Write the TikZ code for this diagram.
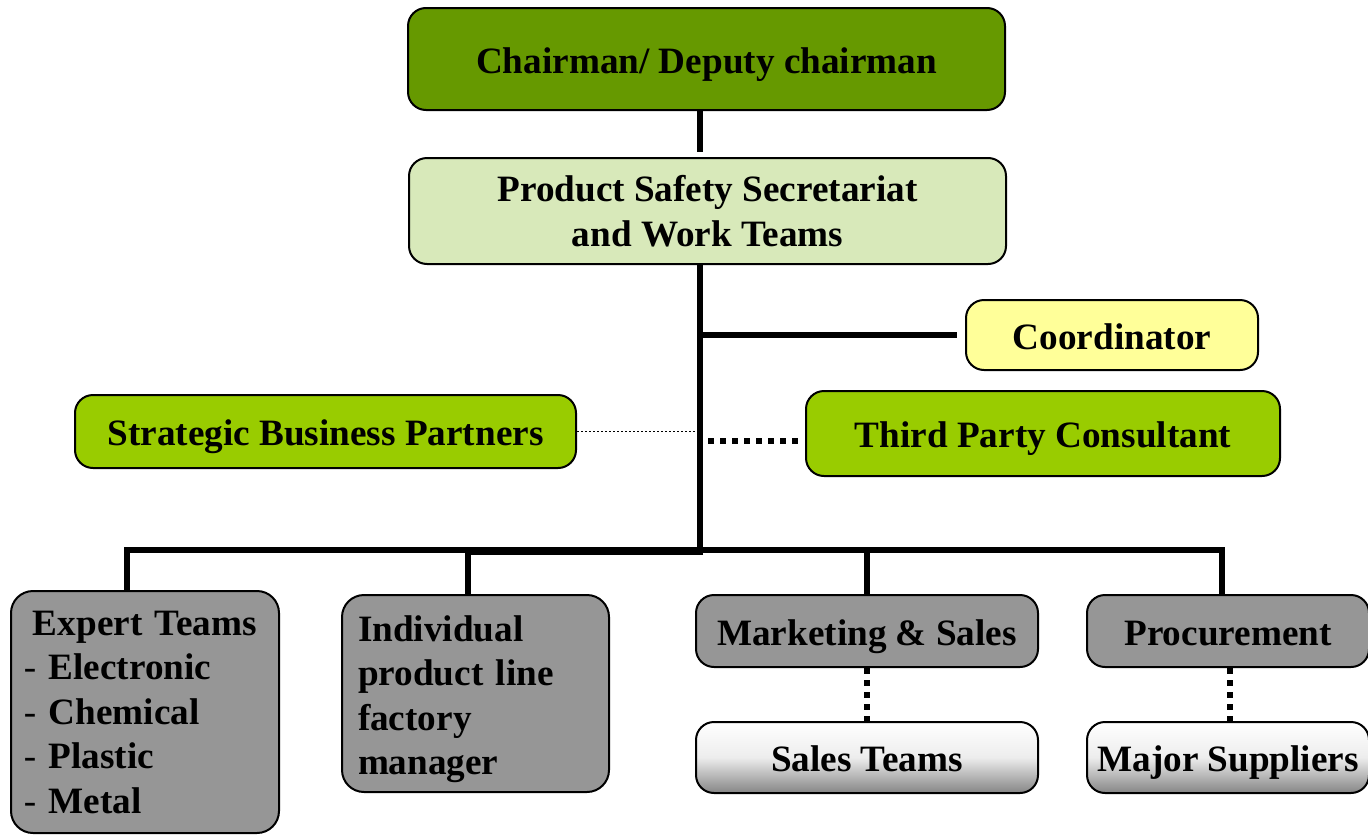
\documentclass[tikz,border=0pt]{standalone}
\usepackage{fontspec}
\setmainfont{Liberation Serif}
\usetikzlibrary{calc}
\definecolor{darkgreen}{HTML}{669900}
\definecolor{palegreen}{HTML}{D8E9BA}
\definecolor{paleyellow}{HTML}{FFFF99}
\definecolor{limegreen}{HTML}{99CC00}
\definecolor{boxgray}{HTML}{969696}
\definecolor{gradgray}{HTML}{858585}
\tikzset{
  box/.style={draw=black, line width=1pt, rounded corners=9pt, inner sep=0pt,
    font=\fontsize{18.6}{22.25}\selectfont\bfseries, text=black},
  oneline/.style={text height=17pt, text depth=3pt},
  graybox/.style={box, fill=boxgray},
  gradbox/.style={box, top color=white, bottom color=gradgray, middle color=white!85!gradgray},
  trunkline/.style={line width=3pt},
  busline/.style={line width=4pt},
  dropline/.style={line width=2.75pt},
  finedots/.style={line width=0.75pt, dash pattern=on 0.75pt off 1.25pt},
  sqdots/.style={line width=3pt, dash pattern=on 3pt off 3pt},
}
\begin{document}
\begin{tikzpicture}[x=0.5pt, y=-0.5pt]
\useasboundingbox (0,0) rectangle (1368,835);

% boxes
\node[box, oneline, fill=darkgreen, minimum width=298.5pt, minimum height=51pt] (chair) at (706.5,59) {Chairman/ Deputy chairman};
\node[box, fill=palegreen, minimum width=298.5pt, minimum height=53pt, align=center] (ps) at (707.5,211) {Product Safety Secretariat\\and Work Teams};
\node[box, oneline, fill=paleyellow, minimum width=146pt, minimum height=35pt] (coord) at (1112,335) {Coordinator};
\node[box, oneline, fill=limegreen, minimum width=250.5pt, minimum height=36.5pt] (sbp) at (325.5,431.5) {Strategic Business Partners};
\node[box, oneline, fill=limegreen, minimum width=237pt, minimum height=42.5pt] (tpc) at (1043,433.5) {Third Party Consultant};

\node[graybox, rounded corners=11pt, minimum height=121pt, inner xsep=6.5pt, text width=121pt, align=left] (expert) at (145,712)
  {\hspace*{4.5pt}Expert Teams\\\textmd{-} Electronic\\\textmd{-} Chemical\\\textmd{-} Plastic\\\textmd{-} Metal};
\node[graybox, rounded corners=11pt, minimum height=98.5pt, inner xsep=8pt, text width=117.5pt, align=left, text height=18.7pt] (indiv) at (475.5,693.5)
  {Individual\\product line\\factory\\manager};
\node[graybox, oneline, minimum width=171pt, minimum height=36pt] (mkt) at (867,631) {Marketing \& Sales};
\node[graybox, oneline, minimum width=141pt, minimum height=36pt] (proc) at (1228,631) {Procurement};
\node[gradbox, oneline, minimum width=171pt, minimum height=35.5pt] (sales) at (867,757.5) {Sales Teams};
\node[gradbox, oneline, minimum width=141pt, minimum height=35.5pt] (major) at (1228,757.5) {Major Suppliers};

% junction point on the trunk
\coordinate (bus) at (700,551);

% connectors
\draw[trunkline, shorten >=2.5pt] (chair.south -| bus) -- (ps.north -| bus);
\draw[trunkline] (ps.south -| bus) -- ([yshift=-1pt]bus);
\draw[trunkline, shorten >=4pt] (coord.west -| bus) -- (coord.west);
\draw[finedots] (sbp.east) -- (sbp.east -| bus);
\draw[sqdots, shorten <=4pt, shorten >=3pt] ([yshift=-3.5pt]tpc.west -| bus) -- ([yshift=-3.5pt]tpc.west);

% bottom bus
\draw[busline] ([xshift=1.5pt]bus) -- ([xshift=-3.75pt]bus -| indiv.north);
\draw[dropline, line join=miter] ([xshift=-3.75pt,yshift=0.5pt]bus -| indiv.north) -| ([xshift=-9pt]expert.north);
\draw[dropline] ([xshift=-3.75pt]bus -| indiv.north) -- ([xshift=-3.75pt]indiv.north);
\draw[dropline, line join=miter] ([yshift=0.5pt]bus) -| ([xshift=-3pt]proc.north);
\draw[dropline] ([yshift=0.5pt]bus -| mkt.north) -- (mkt.north);

% dotted links
\draw[sqdots] (mkt.south) -- (sales.north);
\draw[sqdots] ([xshift=1pt]proc.south) -- ([xshift=1pt]major.north);
\end{tikzpicture}
\end{document}
